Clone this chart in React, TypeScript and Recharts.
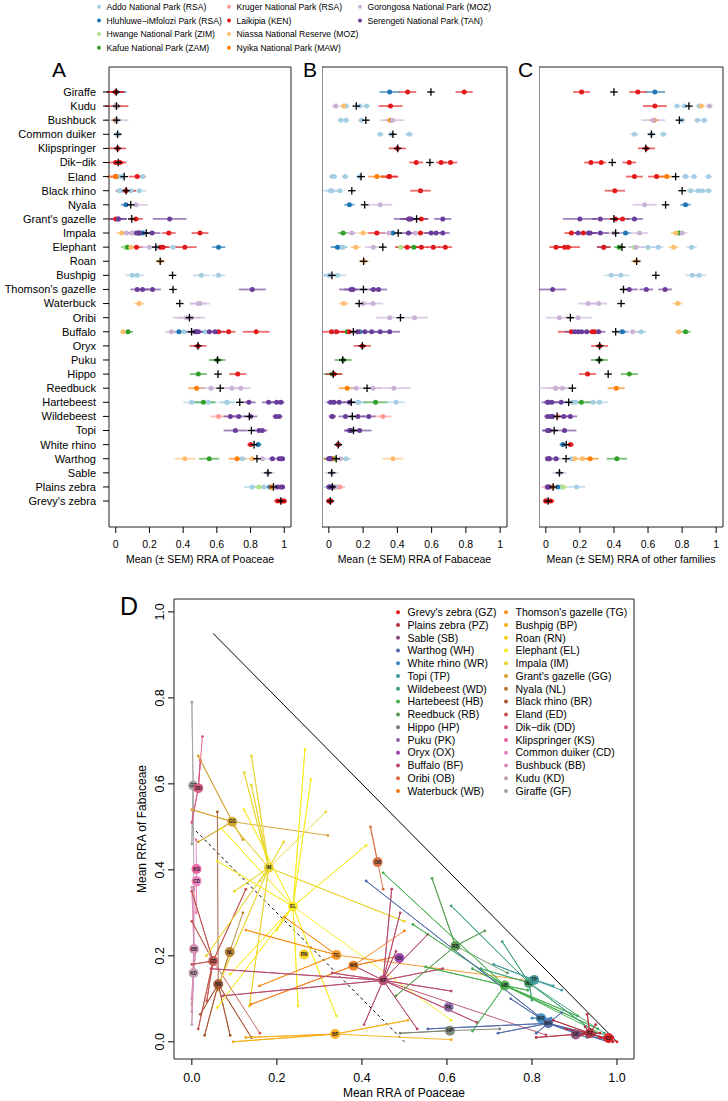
import React from "react";
import { ScatterChart, Scatter, XAxis, YAxis, ErrorBar, ReferenceArea, ReferenceLine } from "recharts";

// park indices
const ADD = 0, HLU = 1, HWA = 2, KAF = 3, KRU = 4, LAI = 5, NIA = 6, NYI = 7, GOR = 8, SER = 9;

const parkNames = [
  "Addo National Park (RSA)",
  "Hluhluwe\u2212iMfolozi Park (RSA)",
  "Hwange National Park (ZIM)",
  "Kafue National Park (ZAM)",
  "Kruger National Park (RSA)",
  "Laikipia (KEN)",
  "Niassa National Reserve (MOZ)",
  "Nyika National Park (MAW)",
  "Gorongosa National Park (MOZ)",
  "Serengeti National Park (TAN)",
];
const parkColors = ["#a6cee3", "#1f78b4", "#b2df8a", "#33a02c", "#fb9a99", "#e31a1c", "#fdbf6f", "#ff7f00", "#cab2d6", "#6a3d9a"];

// species in panel order (top to bottom)
const species = [
  "Giraffe", "Kudu", "Bushbuck", "Common duiker", "Klipspringer", "Dik\u2212dik", "Eland", "Black rhino",
  "Nyala", "Grant's gazelle", "Impala", "Elephant", "Roan", "Bushpig", "Thomson's gazelle", "Waterbuck",
  "Oribi", "Buffalo", "Oryx", "Puku", "Hippo", "Reedbuck", "Hartebeest", "Wildebeest", "Topi",
  "White rhino", "Warthog", "Sable", "Plains zebra", "Grevy's zebra",
];
const abbrevs = [
  "GF", "KD", "BB", "CD", "KS", "DD", "ED", "BR", "NL", "GG", "IM", "EL", "RN", "BP", "TG", "WB",
  "OB", "BF", "OX", "PK", "HP", "RB", "HB", "WD", "TP", "WR", "WH", "SB", "PZ", "GZ",
];
const speciesColors = [
  "#a3a3a3", "#c49aae", "#d88cb6", "#ef7fc1", "#ea5d9f", "#d9577a", "#c2554f", "#a6532e",
  "#b57d2c", "#d2a22c", "#e8d32f", "#f7ea24", "#f8cd16", "#f8ab12", "#f6911b", "#f27b18",
  "#d76a3f", "#b8496a", "#9c3dac", "#8d66a4", "#77806f", "#589a52", "#44ae4b", "#3ea272",
  "#3c9a98", "#3a88be", "#4f6aa8", "#8b4c78", "#b7303f", "#e31a1c",
];

// species means (black crosses / big circles)
const meanPoa = [0.003, 0.004, 0.005, 0.011, 0.011, 0.015, 0.05, 0.062, 0.089, 0.095, 0.181, 0.238, 0.264, 0.337, 0.34, 0.38,
  0.437, 0.45, 0.488, 0.604, 0.607, 0.62, 0.736, 0.793, 0.805, 0.821, 0.838, 0.903, 0.936, 0.98];
const meanFab = [0.596, 0.16, 0.216, 0.374, 0.402, 0.59, 0.188, 0.134, 0.209, 0.512, 0.405, 0.315, 0.203, 0.018, 0.202, 0.177,
  0.418, 0.143, 0.195, 0.081, 0.026, 0.223, 0.131, 0.137, 0.144, 0.055, 0.043, 0.017, 0.02, 0.009];
const meanOth = [0.4, 0.84, 0.784, 0.62, 0.587, 0.39, 0.762, 0.8, 0.703, 0.4, 0.41, 0.447, 0.533, 0.646, 0.456, 0.442,
  0.144, 0.41, 0.316, 0.314, 0.366, 0.156, 0.134, 0.066, 0.049, 0.12, 0.119, 0.08, 0.043, 0.014];

// populations: [park, Poaceae, Fabaceae, other, SEM]
type Pop = [number, number, number, number, number];
const giraffe: Pop[] = [[LAI, 0.0, 0.79, 0.21, 0.05], [LAI, 0.0, 0.46, 0.54, 0.05], [HLU, 0.005, 0.355, 0.64, 0.06]];
const kudu: Pop[] = [[GOR, 0.0, 0.04, 0.96, 0.02], [NIA, 0.0, 0.087, 0.913, 0.02], [ADD, 0.0, 0.1, 0.9, 0.02], [ADD, 0.005, 0.18, 0.815, 0.02], [ADD, 0.01, 0.22, 0.77, 0.02], [LAI, 0.005, 0.36, 0.64, 0.07]];
const bushbuck: Pop[] = [[ADD, 0.0, 0.07, 0.93, 0.02], [ADD, 0.0, 0.1, 0.89, 0.02], [ADD, 0.005, 0.19, 0.8, 0.02], [NYI, 0.0, 0.36, 0.635, 0.03], [GOR, 0.005, 0.37, 0.63, 0.07]];
const commonDuiker: Pop[] = [[ADD, 0.01, 0.3, 0.69, 0.02], [ADD, 0.015, 0.365, 0.62, 0.02], [ADD, 0.01, 0.47, 0.52, 0.025]];
const klipspringer: Pop[] = [[LAI, 0.011, 0.4, 0.59, 0.05]];
const dikDik: Pop[] = [[LAI, 0.0, 0.51, 0.49, 0.04], [LAI, 0.02, 0.655, 0.325, 0.03], [LAI, 0.025, 0.71, 0.265, 0.04]];
const eland: Pop[] = [[NYI, 0.0, 0.28, 0.71, 0.05], [LAI, 0.0, 0.35, 0.65, 0.05], [LAI, 0.127, 0.355, 0.52, 0.05], [ADD, 0.015, 0.03, 0.955, 0.02], [ADD, 0.035, 0.095, 0.87, 0.02], [ADD, 0.0, 0.18, 0.82, 0.02], [ADD, 0.16, 0.02, 0.82, 0.02]];
const blackRhino: Pop[] = [[ADD, 0.03, 0.015, 0.955, 0.02], [ADD, 0.09, 0.015, 0.895, 0.03], [ADD, 0.02, 0.064, 0.92, 0.02], [ADD, 0.14, 0.01, 0.85, 0.04], [LAI, 0.06, 0.535, 0.405, 0.06]];
const nyala: Pop[] = [[HLU, 0.06, 0.12, 0.82, 0.03], [GOR, 0.12, 0.3, 0.58, 0.07]];
const grantsGazelle: Pop[] = [[LAI, 0.0, 0.54, 0.45, 0.04], [LAI, 0.12, 0.47, 0.41, 0.04], [SER, 0.015, 0.665, 0.32, 0.05], [SER, 0.015, 0.465, 0.52, 0.05], [SER, 0.32, 0.48, 0.2, 0.1]];
const impala: Pop[] = [[NIA, 0.034, 0.2, 0.764, 0.03], [GOR, 0.063, 0.134, 0.8, 0.03], [GOR, 0.1, 0.35, 0.55, 0.05], [GOR, 0.095, 0.505, 0.4, 0.06], [KAF, 0.135, 0.083, 0.78, 0.03], [HLU, 0.16, 0.374, 0.468, 0.03], [SER, 0.123, 0.626, 0.25, 0.05], [SER, 0.14, 0.665, 0.19, 0.04], [SER, 0.216, 0.465, 0.32, 0.05], [SER, 0.14, 0.597, 0.26, 0.04], [LAI, 0.5, 0.28, 0.22, 0.05], [LAI, 0.315, 0.535, 0.15, 0.04]];
const elephant: Pop[] = [[KAF, 0.07, 0.496, 0.43, 0.03], [HWA, 0.06, 0.42, 0.52, 0.03], [NIA, 0.09, 0.157, 0.75, 0.03], [LAI, 0.123, 0.54, 0.34, 0.04], [LAI, 0.266, 0.68, 0.06, 0.04], [LAI, 0.28, 0.61, 0.11, 0.04], [LAI, 0.41, 0.457, 0.13, 0.07], [GOR, 0.2, 0.26, 0.53, 0.05], [ADD, 0.34, 0.06, 0.6, 0.04], [ADD, 0.25, 0.083, 0.66, 0.03], [ADD, 0.06, 0.08, 0.855, 0.03], [HLU, 0.61, 0.05, 0.34, 0.04]];
const roan: Pop[] = [[NIA, 0.265, 0.205, 0.53, 0.03]];
const bushpig: Pop[] = [[ADD, 0.097, 0.0, 0.9, 0.04], [ADD, 0.127, 0.01, 0.86, 0.04], [ADD, 0.508, 0.05, 0.44, 0.05], [ADD, 0.61, 0.005, 0.384, 0.04]];
const thomsonsGazelle: Pop[] = [[SER, 0.127, 0.26, 0.59, 0.04], [SER, 0.159, 0.13, 0.7, 0.04], [SER, 0.218, 0.29, 0.49, 0.05], [SER, 0.81, 0.14, 0.04, 0.08]];
const waterbuck: Pop[] = [[NIA, 0.139, 0.087, 0.774, 0.03], [GOR, 0.49, 0.2, 0.31, 0.05], [GOR, 0.5, 0.258, 0.248, 0.06]];
const oribi: Pop[] = [[GOR, 0.42, 0.5, 0.08, 0.08], [GOR, 0.45, 0.355, 0.19, 0.08]];
const buffalo: Pop[] = [[NIA, 0.045, 0.17, 0.78, 0.02], [KAF, 0.073, 0.107, 0.82, 0.03], [GOR, 0.33, 0.16, 0.51, 0.04], [HLU, 0.375, 0.18, 0.45, 0.03], [ADD, 0.405, 0.04, 0.56, 0.03], [ADD, 0.53, 0.03, 0.44, 0.03], [SER, 0.47, 0.355, 0.17, 0.06], [SER, 0.48, 0.21, 0.31, 0.04], [SER, 0.49, 0.3, 0.21, 0.04], [SER, 0.555, 0.25, 0.19, 0.04], [SER, 0.59, 0.17, 0.24, 0.04], [LAI, 0.61, 0.118, 0.273, 0.04], [LAI, 0.67, 0.045, 0.287, 0.04], [LAI, 0.833, 0.016, 0.15, 0.08]];
const oryx: Pop[] = [[LAI, 0.488, 0.196, 0.316, 0.05]];
const puku: Pop[] = [[KAF, 0.603, 0.083, 0.314, 0.05]];
const hippo: Pop[] = [[KAF, 0.49, 0.02, 0.49, 0.05], [LAI, 0.724, 0.03, 0.245, 0.05]];
const reedbuck: Pop[] = [[NYI, 0.48, 0.107, 0.413, 0.05], [GOR, 0.565, 0.38, 0.058, 0.1], [GOR, 0.689, 0.258, 0.058, 0.05], [GOR, 0.742, 0.16, 0.097, 0.06]];
const hartebeest: Pop[] = [[KAF, 0.52, 0.273, 0.209, 0.07], [ADD, 0.45, 0.393, 0.156, 0.05], [ADD, 0.55, 0.174, 0.277, 0.05], [ADD, 0.66, 0.025, 0.316, 0.05], [ADD, 0.66, 0.17, 0.175, 0.04], [SER, 0.79, 0.12, 0.09, 0.04], [SER, 0.907, 0.06, 0.035, 0.04], [SER, 0.955, 0.03, 0.015, 0.04], [SER, 0.98, 0.01, 0.01, 0.02]];
const wildebeest: Pop[] = [[KRU, 0.61, 0.316, 0.07, 0.05], [SER, 0.68, 0.17, 0.144, 0.04], [SER, 0.73, 0.233, 0.04, 0.04], [SER, 0.8, 0.097, 0.105, 0.04], [SER, 0.95, 0.02, 0.03, 0.02], [SER, 0.97, 0.02, 0.01, 0.02]];
const topi: Pop[] = [[SER, 0.71, 0.18, 0.11, 0.07], [SER, 0.85, 0.13, 0.02, 0.04], [SER, 0.87, 0.12, 0.01, 0.03]];
const whiteRhino: Pop[] = [[LAI, 0.8, 0.055, 0.145, 0.02], [HLU, 0.845, 0.055, 0.1, 0.02]];
const warthog: Pop[] = [[NIA, 0.41, 0.374, 0.214, 0.06], [KAF, 0.555, 0.03, 0.417, 0.06], [NYI, 0.72, 0.02, 0.26, 0.05], [ADD, 0.75, 0.1, 0.15, 0.03], [NIA, 0.81, 0.02, 0.17, 0.03], [GOR, 0.87, 0.068, 0.058, 0.04], [SER, 0.93, 0.01, 0.06, 0.02], [SER, 0.97, 0.01, 0.02, 0.02], [SER, 0.98, 0.0, 0.02, 0.02], [SER, 0.99, 0.0, 0.01, 0.01]];
const sable: Pop[] = [[GOR, 0.903, 0.017, 0.08, 0.04]];
const plainsZebra: Pop[] = [[ADD, 0.81, 0.01, 0.18, 0.05], [HWA, 0.85, 0.05, 0.1, 0.03], [ADD, 0.88, 0.03, 0.09, 0.03], [HLU, 0.915, 0.015, 0.07, 0.02], [NYI, 0.925, 0.035, 0.04, 0.02], [KRU, 0.93, 0.064, 0.006, 0.03], [GOR, 0.95, 0.04, 0.01, 0.02], [SER, 0.96, 0.02, 0.02, 0.02], [SER, 0.98, 0.005, 0.015, 0.02], [SER, 0.99, 0.0, 0.01, 0.01]];
const grevysZebra: Pop[] = [[LAI, 0.96, 0.01, 0.03, 0.02], [LAI, 0.98, 0.005, 0.015, 0.02], [LAI, 0.99, 0.01, 0.0, 0.01], [LAI, 1.0, 0.0, 0.0, 0.01]];

const popsBySpecies = [
  giraffe, kudu, bushbuck, commonDuiker, klipspringer, dikDik, eland, blackRhino, nyala, grantsGazelle,
  impala, elephant, roan, bushpig, thomsonsGazelle, waterbuck, oribi, buffalo, oryx, puku, hippo,
  reedbuck, hartebeest, wildebeest, topi, whiteRhino, warthog, sable, plainsZebra, grevysZebra,
];

const fracTicks = [0, 0.2, 0.4, 0.6, 0.8, 1];
const rowTicks = species.map((_, i) => i);
const FONT = "'Liberation Sans', Arial, Helvetica, sans-serif";

const plusShape = (p: any) => (
  <g>
    <line x1={p.cx - 3.8} x2={p.cx + 3.8} y1={p.cy} y2={p.cy} stroke="#000" strokeWidth={1.3} />
    <line x1={p.cx} x2={p.cx} y1={p.cy - 3.8} y2={p.cy + 3.8} stroke="#000" strokeWidth={1.3} />
  </g>
);

// species name tick: plain text so long names never wrap
const NameTick = (p: any) => (
  <text x={p.x} y={p.y} dy={3.9} textAnchor="end" fontSize={11} fill="#000">
    {species[p.payload.value]}
  </text>
);

function DotPanel({ col, left, width, axisWidth, title }: { col: number; left: number; width: number; axisWidth: number; title: string }) {
  const points = popsBySpecies.flatMap((pops, row) => pops.map((p) => ({ row, park: p[0], v: p[col + 1], se: p[4] })));
  const means = [meanPoa, meanFab, meanOth][col].map((v, row) => ({ row, v }));
  return (
    <div style={{ position: "absolute", left, top: 0 }}>
      <ScatterChart width={width} height={575} margin={{ top: 67, right: 2, bottom: 0, left: 0 }}>
        <XAxis
          type="number"
          dataKey="v"
          domain={[-0.04, 1.04]}
          allowDataOverflow
          ticks={fracTicks}
          interval={0}
          tickFormatter={(v) => String(v)}
          axisLine={false}
          tickSize={6}
          tickMargin={8}
          height={48}
          tick={{ fill: "#000", fontSize: 10.5 }}
          tickLine={{ stroke: "#000" }}
          label={{ value: title, position: "insideBottom", offset: 12, fill: "#000", fontSize: 10.5 }}
        />
        <YAxis
          type="number"
          dataKey="row"
          domain={[-1.77, 30.84]}
          allowDataOverflow
          reversed
          ticks={rowTicks}
          interval={0}
          hide={axisWidth === 0}
          width={axisWidth}
          axisLine={false}
          tickSize={6}
          tickMargin={7}
          tick={NameTick}
          tickLine={{ stroke: "#000" }}
        />
        <ReferenceArea x1={-0.04} x2={1.04} y1={-1.77} y2={30.84} fill="none" stroke="#222" strokeWidth={1} ifOverflow="visible" />
        {parkColors.map((c, k) => (
          <Scatter
            key={k}
            data={points.filter((d) => d.park === k)}
            fill={c}
            isAnimationActive={false}
            shape={(p: any) => <circle cx={p.cx} cy={p.cy} r={2.5} fill={c} />}
          >
            <ErrorBar dataKey="se" direction="x" width={0} stroke={c} strokeWidth={1.8} strokeOpacity={0.65} />
          </Scatter>
        ))}
        <Scatter data={means} isAnimationActive={false} shape={plusShape} />
      </ScatterChart>
    </div>
  );
}

const RotTick = (p: any) => (
  <text x={p.x} y={p.y} transform={`rotate(-90, ${p.x}, ${p.y})`} textAnchor="middle" fontSize={12.5} fill="#000">
    {Number(p.payload.value).toFixed(1)}
  </text>
);

function TernaryPanel() {
  const centres = meanPoa.map((x, i) => ({ x, y: meanFab[i], i }));
  return (
    <div style={{ position: "absolute", left: 100, top: 580 }}>
      <ScatterChart width={536} height={521} margin={{ top: 19, right: 2, bottom: 0, left: 0 }}>
        <XAxis
          type="number"
          dataKey="x"
          domain={[-0.042, 1.04]}
          allowDataOverflow
          ticks={fracTicks}
          interval={0}
          tickFormatter={(v) => Number(v).toFixed(1)}
          axisLine={false}
          tickSize={6}
          tickMargin={8}
          height={42}
          tick={{ fill: "#000", fontSize: 12.5 }}
          tickLine={{ stroke: "#000" }}
          label={{ value: "Mean RRA of Poaceae", position: "insideBottom", offset: 4, fill: "#000", fontSize: 12 }}
        />
        <YAxis
          type="number"
          dataKey="y"
          domain={[-0.04, 1.03]}
          allowDataOverflow
          ticks={fracTicks}
          interval={0}
          width={74}
          axisLine={false}
          tickSize={6}
          tickMargin={4}
          tick={RotTick}
          tickLine={{ stroke: "#000" }}
          label={{ value: "Mean RRA of Fabaceae", angle: -90, position: "insideLeft", offset: 42, fill: "#000", fontSize: 12, style: { textAnchor: "middle" } }}
        />
        <ReferenceArea x1={-0.042} x2={1.04} y1={-0.04} y2={1.03} fill="none" stroke="#222" strokeWidth={1} ifOverflow="visible" />
        <ReferenceLine segment={[{ x: 0.05, y: 0.95 }, { x: 1, y: 0 }]} stroke="#000" strokeWidth={1} ifOverflow="visible" />
        <ReferenceLine segment={[{ x: 0, y: 0.5 }, { x: 0.5, y: 0 }]} stroke="#000" strokeWidth={1} strokeDasharray="3 3" ifOverflow="visible" />
        {popsBySpecies.map((pops, i) => {
          const star = pops.flatMap((p) => [{ x: meanPoa[i], y: meanFab[i] }, { x: p[1], y: p[2] }]);
          const c = speciesColors[i];
          return (
            <Scatter
              key={i}
              data={star}
              isAnimationActive={false}
              line={{ stroke: c, strokeWidth: 1, strokeOpacity: 0.9 }}
              lineType="joint"
              shape={(p: any) => <circle cx={p.cx} cy={p.cy} r={1.4} fill={c} />}
            />
          );
        })}
        <Scatter
          data={centres}
          isAnimationActive={false}
          shape={(p: any) => (
            <g>
              <circle cx={p.cx} cy={p.cy} r={5} fill={speciesColors[p.payload.i]} fillOpacity={0.92} />
              <text x={p.cx} y={p.cy + 1.6} textAnchor="middle" fontSize={4.6} fontWeight="bold" fill="#222">
                {abbrevs[p.payload.i]}
              </text>
            </g>
          )}
        />
      </ScatterChart>
    </div>
  );
}

export default function App() {
  const legendOrder = species.map((_, i) => species.length - 1 - i);
  return (
    <div style={{ position: "absolute", left: 0, top: 0, width: 728, height: 1101, background: "#fff", fontFamily: FONT }}>
      <DotPanel col={0} left={0} width={293} axisWidth={109} title="Mean (± SEM) RRA of Poaceae" />
      <DotPanel col={1} left={322} width={187} axisWidth={0} title="Mean (± SEM) RRA of Fabaceae" />
      <DotPanel col={2} left={539} width={186} axisWidth={0} title="Mean (± SEM) RRA of other families" />
      <TernaryPanel />
      <svg width={728} height={1101} style={{ position: "absolute", left: 0, top: 0, pointerEvents: "none" }}>
        {parkNames.map((name, k) => {
          const x = [99, 229, 360][Math.floor(k / 4)];
          const y = 6.8 + (k % 4) * 13.65;
          return (
            <g key={name}>
              <circle cx={x} cy={y} r={2} fill={parkColors[k]} />
              <text x={x + 7.5} y={y + 3.2} fontSize={8.6} fill="#000">{name}</text>
            </g>
          );
        })}
        {legendOrder.map((s, j) => {
          const x = j < 15 ? 398 : 506;
          const y = 612.3 + (j % 15) * 12.76;
          return (
            <g key={s}>
              <circle cx={x} cy={y} r={2} fill={speciesColors[s]} />
              <text x={x + 9.5} y={y + 3.7} fontSize={10.5} fill="#000">{`${species[s]} (${abbrevs[s]})`}</text>
            </g>
          );
        })}
        <text x={52} y={77} fontSize={21} fill="#000">A</text>
        <text x={303} y={77} fontSize={21} fill="#000">B</text>
        <text x={518} y={77} fontSize={21} fill="#000">C</text>
        <text x={120} y={615} fontSize={25} fill="#000">D</text>
      </svg>
    </div>
  );
}
